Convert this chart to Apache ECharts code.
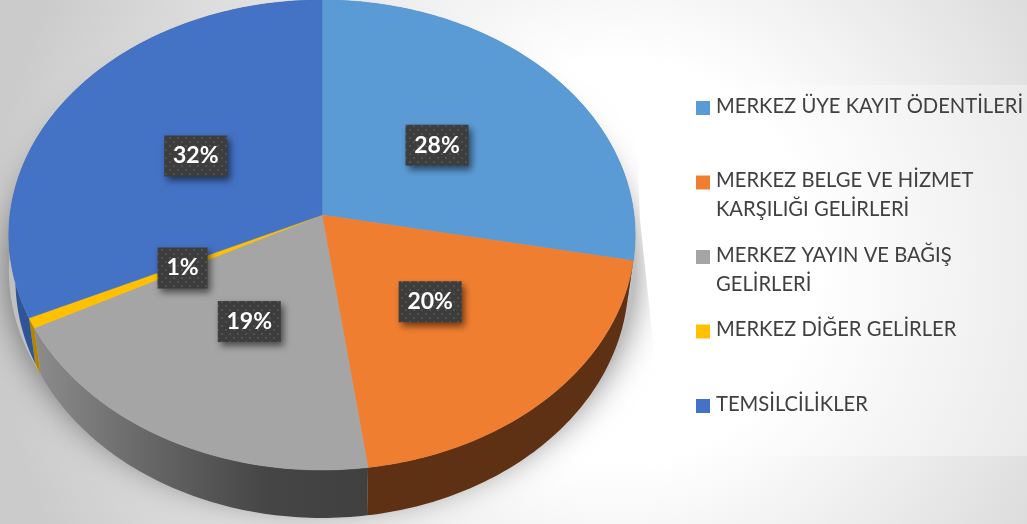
<!DOCTYPE html>
<html>
<head>
<meta charset="utf-8">
<title>Gelir dagilimi</title>
<script src="https://cdn.jsdelivr.net/npm/echarts@6/dist/echarts.min.js"></script>
<style>
  html, body { margin: 0; padding: 0; background: #fff; }
  #chart { width: 1027px; height: 524px; }
</style>
</head>
<body>
<div id="chart"></div>
<script>
const categories = [
  'MERKEZ ÜYE KAYIT ÖDENTİLERİ',
  'MERKEZ BELGE VE HİZMET\nKARŞILIĞI GELİRLERİ',
  'MERKEZ YAYIN VE BAĞIŞ\nGELİRLERİ',
  'MERKEZ DİĞER GELİRLER',
  'TEMSİLCİLİKLER'
];
const shares = [28, 19.7, 19.4, 0.7, 31.9];
const faceColors = ['#5B9BD5', '#F07E30', '#A5A5A5', '#FFC000', '#4472C4'];
const wallColors = ['#3a6d9c', '#5f3114', null, '#b38600', '#2f5597'];

const total = shares.reduce((a, b) => a + b, 0);
const starts = [];
shares.reduce((sum, v, i) => { starts[i] = sum; return sum + v; }, 0);

// tilted disc with a little perspective, the centre sits above the middle of the ellipse
const CX = 322, CY = 215, RX = 312, RY = 233.3, PERSP = 0.085;
function project(angle, r) {
  const x = r * Math.sin(angle), y = -r * Math.cos(angle);
  const w = 1 - PERSP * y;
  return [CX + RX * x / w, CY + RY * y / w];
}
// same point on the lower rim
function lower(p) {
  return [CX + (p[0] - CX) * 0.979, CY + (p[1] - CY) * 1.014 + 44.4];
}
function arc(a0, a1) {
  const n = Math.max(2, Math.ceil((a1 - a0) * 180 / Math.PI));
  const pts = [];
  for (let i = 0; i <= n; i++) pts.push(project(a0 + (a1 - a0) * i / n, 1));
  return pts;
}
function sliceAngles(i) {
  const a0 = starts[i] / total * Math.PI * 2;
  return [a0, a0 + shares[i] / total * Math.PI * 2];
}

const grayWall = new echarts.graphic.LinearGradient(0, 0, 1, 0, [
  { offset: 0, color: '#8c8c8c' },
  { offset: 0.35, color: '#666666' },
  { offset: 0.7, color: '#454545' },
  { offset: 1, color: '#404040' }
]);

// dotted texture of the label boxes
const dots = document.createElement('canvas');
dots.width = 8; dots.height = 8;
const dc = dots.getContext('2d');
dc.fillStyle = '#3d3d3d'; dc.fillRect(0, 0, 8, 8);
dc.fillStyle = '#515151';
dc.fillRect(1, 1, 2, 2); dc.fillRect(5, 5, 2, 2);

// soft shadow under the disc, cut off on the right like in the slide
function renderShadow() {
  const rim = arc(0, Math.PI * 2).map(p => [p[0], p[1] + 36]);
  return {
    type: 'polygon',
    shape: { points: rim },
    clipPath: {
      type: 'polygon',
      shape: { points: [[0, 0], [632, 0], [640, 220], [655, 360], [690, 524], [0, 524]] }
    },
    style: { fill: '#c0c0c0', shadowBlur: 34, shadowColor: 'rgba(0,0,0,0.5)' }
  };
}
function renderWall(params) {
  const i = params.dataIndex;
  const [a0, a1] = sliceAngles(i);
  const top = arc(a0, a1);
  return {
    type: 'polygon',
    shape: { points: top.concat(top.map(lower).reverse()) },
    style: { fill: wallColors[i] || grayWall }
  };
}
function renderFace(params) {
  const i = params.dataIndex;
  const [a0, a1] = sliceAngles(i);
  return {
    type: 'polygon',
    shape: { points: [[CX, CY]].concat(arc(a0, a1)) },
    style: { fill: faceColors[i], stroke: faceColors[i], lineWidth: 0.5 }
  };
}
function renderLabel(params, api) {
  const i = params.dataIndex;
  const [a0, a1] = sliceAngles(i);
  const c = project((a0 + a1) / 2, 0.49);
  c[1] += 1;
  const text = Math.round(api.value(0) / total * 100) + '%';
  const w = 24 + text.length * 13, h = 41;
  return {
    type: 'group',
    children: [
      {
        type: 'rect',
        shape: { x: c[0] - w / 2, y: c[1] - h / 2, width: w, height: h },
        style: {
          fill: { image: dots, repeat: 'repeat' },
          shadowBlur: 7, shadowColor: 'rgba(0,0,0,0.55)', shadowOffsetX: 3, shadowOffsetY: 4
        }
      },
      {
        type: 'text',
        x: c[0], y: c[1],
        style: {
          text: text, fill: '#fff', align: 'center', verticalAlign: 'middle',
          font: 'bold 23px Lato, sans-serif'
        }
      }
    ]
  };
}

const legendTop = 106, legendStep = 74.5;
const legendItems = [];
categories.forEach((name, i) => {
  const y = legendTop + i * legendStep;
  legendItems.push({
    type: 'rect', z: 2,
    shape: { x: 696, y: y - 5, width: 14, height: 14 },
    style: { fill: faceColors[i] }
  });
  legendItems.push({
    type: 'text', z: 2,
    x: 716, y: y - 14.5,
    style: {
      text: name, fill: '#404040', font: '20.2px Lato, sans-serif',
      lineHeight: 29, verticalAlign: 'top', align: 'left'
    }
  });
});

const chart = echarts.init(document.getElementById('chart'));
const seriesData = shares.map(v => [v]);
chart.setOption({
  animation: false,
  backgroundColor: {
    type: 'radial', x: 0.6, y: 0.5, r: 1.2,
    colorStops: [
      { offset: 0, color: '#ffffff' },
      { offset: 0.32, color: '#ffffff' },
      { offset: 1, color: '#cbcbcb' }
    ]
  },
  graphic: [
    {
      type: 'rect', z: 1,
      shape: { x: 684, y: 85, width: 343, height: 371 },
      style: { fill: 'rgba(255,255,255,0.32)' }
    },
    { type: 'group', children: legendItems }
  ],
  series: [
    { type: 'custom', coordinateSystem: 'none', z: 2, silent: true, data: [[0]], renderItem: renderShadow },
    { type: 'custom', coordinateSystem: 'none', z: 3, silent: true, data: seriesData, renderItem: renderWall },
    { type: 'custom', coordinateSystem: 'none', z: 4, silent: true, data: seriesData, renderItem: renderFace },
    { type: 'custom', coordinateSystem: 'none', z: 5, silent: true, data: seriesData, renderItem: renderLabel }
  ]
});
</script>
</body>
</html>
